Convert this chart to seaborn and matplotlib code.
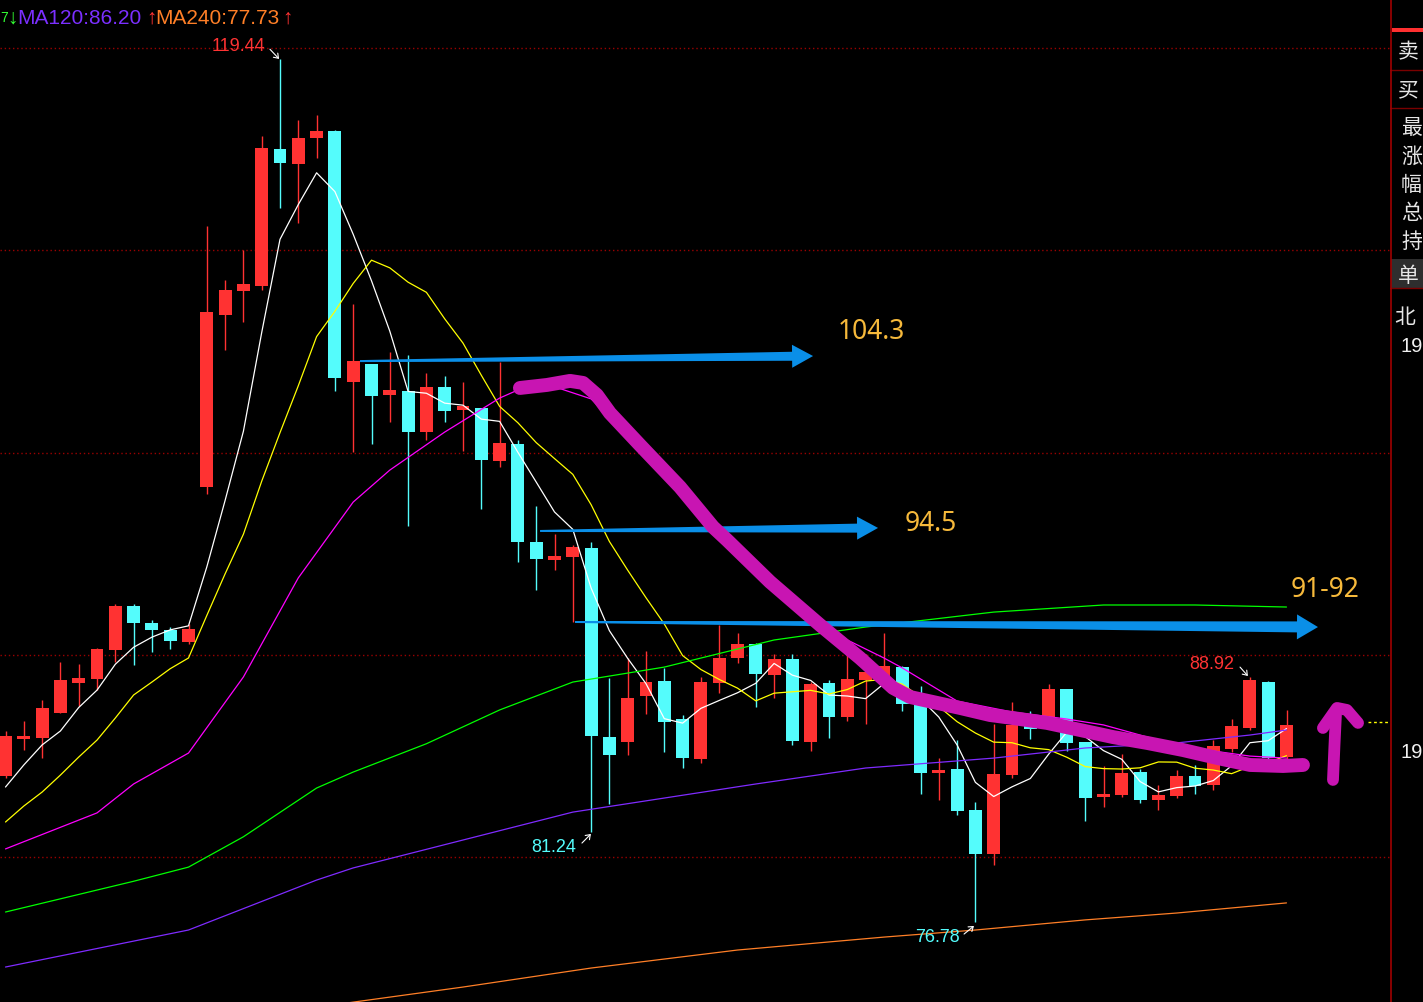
import numpy as np
import pandas as pd
import matplotlib
matplotlib.use("Agg")
import matplotlib.pyplot as plt
import seaborn as sns
from matplotlib.patches import Rectangle, Polygon

# ---------------- data ----------------
opens = [84.00, 85.83, 85.88, 87.12, 88.60, 88.80, 90.23, 92.41, 91.57, 91.22,
         90.63, 98.29, 106.80, 107.99, 108.23, 115.01, 114.26, 115.55, 115.90, 103.49,
         104.38, 102.84, 103.04, 101.01, 103.24, 102.10, 102.20, 99.58, 100.42, 95.58,
         94.68, 94.83, 95.28, 85.93, 85.69, 87.96, 88.70, 86.82, 84.85, 88.60,
         89.84, 90.53, 89.00, 89.79, 85.69, 88.60, 86.92, 88.75, 88.75, 89.39,
         87.56, 84.15, 84.35, 82.32, 80.15, 84.05, 86.53, 86.77, 88.31, 85.69,
         82.97, 83.07, 84.20, 82.82, 83.02, 84.00, 83.56, 85.34, 86.38, 88.65,
         84.94]
highs = [86.23, 86.72, 87.76, 89.64, 89.54, 90.33, 92.51, 92.51, 91.72, 91.37,
         91.52, 111.20, 108.53, 110.01, 115.65, 119.44, 116.44, 116.68, 115.95, 107.34,
         104.40, 104.97, 104.82, 103.93, 103.78, 103.49, 102.22, 104.47, 100.62, 97.35,
         95.97, 95.43, 95.57, 88.85, 89.84, 90.19, 89.34, 87.02, 88.90, 91.47,
         91.08, 90.58, 90.04, 90.04, 88.65, 88.75, 90.14, 90.04, 91.08, 89.44,
         88.45, 84.90, 85.78, 82.72, 86.58, 87.66, 87.22, 88.55, 88.33, 85.71,
         84.50, 85.09, 84.35, 83.56, 84.30, 84.55, 85.78, 86.82, 88.92, 88.70,
         87.27]
lows = [83.90, 85.29, 84.90, 87.10, 87.47, 88.26, 89.64, 89.49, 90.14, 90.28,
        90.53, 97.95, 105.07, 106.45, 108.03, 112.09, 111.35, 114.56, 103.04, 100.02,
        100.42, 101.51, 96.37, 100.62, 101.51, 100.07, 97.21, 99.28, 94.59, 93.20,
        94.19, 91.62, 81.24, 82.62, 85.04, 87.07, 85.19, 84.40, 84.65, 88.11,
        89.59, 87.42, 87.86, 85.54, 85.24, 85.88, 86.72, 86.58, 88.45, 87.22,
        83.12, 82.82, 82.08, 76.78, 79.60, 83.91, 85.83, 86.67, 85.24, 81.78,
        82.47, 82.97, 82.67, 82.32, 82.92, 83.12, 83.31, 85.19, 86.28, 84.80,
        84.80]
closes = [85.98, 85.98, 87.37, 88.75, 88.85, 90.28, 92.41, 91.57, 91.22, 90.68,
          91.27, 106.95, 108.03, 108.33, 115.06, 114.31, 115.55, 115.90, 103.68, 104.52,
          102.79, 103.09, 101.01, 103.24, 102.05, 102.30, 99.63, 100.47, 95.58, 94.73,
          94.88, 95.33, 85.98, 85.04, 87.86, 88.65, 86.67, 84.90, 88.65, 89.84,
          90.53, 89.05, 89.79, 85.74, 88.55, 86.92, 88.80, 89.15, 89.44, 87.56,
          84.15, 84.30, 82.27, 80.15, 84.10, 86.53, 86.33, 88.31, 85.64, 82.92,
          83.12, 84.15, 82.82, 83.07, 84.00, 83.51, 85.49, 86.48, 88.75, 84.90,
          86.53]

ma5 = [83.46, 84.55, 85.54, 86.23, 87.39, 88.25, 89.53, 90.37, 90.87, 91.23,
       91.43, 94.34, 97.63, 101.05, 105.93, 110.54, 112.26, 113.83, 112.90, 110.79,
       108.49, 106.00, 103.02, 102.93, 102.44, 102.34, 101.65, 101.54, 100.01, 98.54,
       97.06, 96.20, 93.30, 91.19, 89.82, 88.57, 86.84, 86.62, 87.35, 87.74,
       88.12, 88.59, 89.57, 88.99, 88.73, 88.01, 87.96, 87.83, 88.57, 88.37,
       87.82, 86.92, 85.54, 83.69, 82.99, 83.47, 83.88, 85.08, 86.18, 85.95,
       85.26, 84.83, 83.73, 83.22, 83.43, 83.51, 83.78, 84.51, 85.65, 85.75,
       86.35]
ma10 = [81.73, 82.52, 83.21, 84.05, 84.94, 85.78, 86.87, 88.01, 88.65, 89.31,
        89.84, 91.94, 94.00, 95.96, 98.58, 100.98, 103.30, 105.73, 106.98, 108.36,
        109.51, 109.13, 108.42, 107.92, 106.61, 105.41, 103.82, 102.28, 101.47, 100.49,
        99.70, 98.92, 97.42, 95.60, 94.18, 92.82, 91.52, 89.96, 89.27, 88.78,
        88.35, 87.72, 88.10, 88.17, 88.24, 88.06, 88.28, 88.70, 88.78, 88.55,
        87.92, 87.44, 86.69, 86.13, 85.68, 85.65, 85.40, 85.31, 84.93, 84.47,
        84.37, 84.35, 84.41, 84.70, 84.69, 84.39, 84.30, 84.12, 84.48, 84.67,
        85.01]
ma20_idx = [0, 5, 7, 10, 13, 16, 19, 21, 24, 27, 28, 30, 32, 35, 37, 39, 42, 46, 48, 49,
            52, 55, 58, 60, 63, 66, 68, 70]
ma20_val = [80.40, 82.18, 83.61, 85.14, 88.90, 93.80, 97.55, 99.13, 101.01, 102.69,
            103.09, 103.25, 102.65, 99.85, 97.95, 95.85, 93.55, 90.73, 89.84, 89.35,
            87.71, 87.17, 86.82, 86.53, 85.78, 85.24, 84.99, 84.89]
ma60_idx = [0, 7, 10, 13, 17, 19, 23, 27, 31, 36, 42, 47, 54, 60, 65, 70]
ma60_val = [77.28, 78.80, 79.50, 81.00, 83.41, 84.20, 85.60, 87.27, 88.65, 89.39,
            90.73, 91.37, 92.11, 92.46, 92.46, 92.36]
ma120_idx = [0, 10, 17, 19, 31, 41, 47, 54, 59, 64, 68, 70]
ma120_val = [74.56, 76.39, 78.86, 79.46, 82.22, 83.61, 84.40, 84.89, 85.39, 85.64,
             86.03, 86.28]
ma240_idx = [18, 25, 32, 40, 48, 53, 59, 64, 70]
ma240_val = [72.70, 73.57, 74.51, 75.40, 76.04, 76.39, 76.89, 77.23, 77.73]

ma_names = ["MA5", "MA10", "MA20", "MA60", "MA120", "MA240"]
ma_colors = ["#FFFFFF", "#FFFF00", "#FF00FF", "#00FF00", "#7F2BFF", "#FF7F27"]

# annotations
extreme_text = ["119.44", "81.24", "76.78", "88.92"]
extreme_pos = [(14.18, 120.05), (31.17, 80.49), (52.16, 76.04), (67.13, 89.54)]
extreme_arrow = [((14.45, 119.94), (14.95, 119.46)),
                 ((31.50, 80.69), (31.99, 81.14)),
                 ((52.38, 76.19), (52.92, 76.59)),
                 ((67.46, 89.39), (67.89, 88.95))]
extreme_color = ["#FF3333", "#54FCFC", "#54FCFC", "#FF3333"]

level_text = ["104.3", "94.5", "91-92"]
level_pos = [(45.49, 105.96), (49.15, 96.46), (70.25, 93.20)]
blue_arrows = [((19.37, 104.52), (44.13, 104.77)),
               ((29.21, 96.12), (47.68, 96.27)),
               ((31.12, 91.62), (71.72, 91.37))]

stroke_idx = [28.11, 29.59, 30.85, 31.56, 32.32, 33.03, 34.67, 36.86, 38.66, 39.43,
              41.78, 44.51, 46.69, 48.50, 49.43, 52.16, 53.80, 55.05, 56.91, 58.72,
              60.52, 62.38, 64.34, 66.20, 68.01, 69.81, 70.90]
stroke_val = [103.19, 103.34, 103.54, 103.44, 102.84, 101.95, 100.37, 98.29, 96.32, 95.67,
              93.60, 91.47, 89.84, 88.36, 87.91, 87.37, 87.02, 86.87, 86.63, 86.28,
              85.93, 85.64, 85.29, 84.90, 84.55, 84.50, 84.55]
uparrow_shaft = ([72.54, 72.62, 72.70], [83.81, 85.50, 87.02])
uparrow_head = ([71.99, 72.76, 73.30, 73.91], [86.38, 87.37, 87.27, 86.63])

panel_labels = ["卖", "买", "最", "涨", "幅", "总", "持", "单", "北"]

# ---------------- figure ----------------
W, H, DPI = 1423, 1002, 100
sns.set_theme(style="dark")
plt.rcParams["font.family"] = ["Liberation Sans", "DejaVu Sans"]

RED = "#FF3232"
CYAN = "#54FCFC"
BLUE = "#0A8FE8"
MAG = "#C815B2"
GOLD = "#F6B93B"

fig = plt.figure(figsize=(W / DPI, H / DPI), dpi=DPI, facecolor="black")
ax = fig.add_axes([0, 0, 1390 / W, 1])
ax.set_facecolor("black")

PXC = 18.3          # pixels per candle
PXU = 20.225        # pixels per price unit
X0 = 5.5
xlim = (-X0 / PXC, (1390 - X0) / PXC)
ylim = (80 - (H - 857) / PXU, 80 + 857 / PXU)

# grid (dotted dark red)
for v in [80, 90, 100, 110, 120]:
    ax.axhline(v, color="#9A0000", ls=(0, (1, 2)), lw=1.0, zorder=1)

# candles
idx = np.arange(len(closes))
o = np.array(opens); c = np.array(closes); h = np.array(highs); l = np.array(lows)
cols = np.where(c >= o, RED, CYAN)
ax.vlines(idx, l, h, colors=cols, lw=1.0, zorder=2)
ax.bar(idx, np.maximum(np.abs(c - o), 0.12), bottom=np.minimum(o, c), width=0.71,
       color=cols, linewidth=0, zorder=3)

# moving averages through seaborn
frames = [
    pd.DataFrame({"idx": idx, "val": ma5, "ma": "MA5"}),
    pd.DataFrame({"idx": idx, "val": ma10, "ma": "MA10"}),
    pd.DataFrame({"idx": ma20_idx, "val": ma20_val, "ma": "MA20"}),
    pd.DataFrame({"idx": ma60_idx, "val": ma60_val, "ma": "MA60"}),
    pd.DataFrame({"idx": ma120_idx, "val": ma120_val, "ma": "MA120"}),
    pd.DataFrame({"idx": ma240_idx, "val": ma240_val, "ma": "MA240"}),
]
df = pd.concat(frames, ignore_index=True)
sns.lineplot(data=df, x="idx", y="val", hue="ma", hue_order=ma_names,
             palette=dict(zip(ma_names, ma_colors)), estimator=None, legend=False,
             linewidth=0.9, ax=ax, zorder=4)

ax.set_xlim(*xlim)
ax.set_ylim(*ylim)
ax.axis("off")

# current price dashed marker
ax.plot([74.45, 75.6], [86.67, 86.67], color="#FFFF00", ls=(0, (2, 2)), lw=1.0, zorder=4)

# extreme labels
for t, (xx, yy), (a0, a1), col in zip(extreme_text, extreme_pos, extreme_arrow, extreme_color):
    ax.text(xx, yy, t, color=col, fontsize=13, ha="right", va="center", zorder=8)
    ax.annotate("", xy=a1, xytext=a0,
                arrowprops=dict(arrowstyle="->,head_length=0.25,head_width=0.18",
                                color="white", lw=0.8, shrinkA=0, shrinkB=0), zorder=8)

# blue tapered arrows (built in pixel space)
fig.canvas.draw()
tr = ax.transData
inv = tr.inverted()
def tapered(start, end, ts=1.0, te=4.5, hl=21.0, hw=11.5):
    S = np.array(tr.transform(start)); E = np.array(tr.transform(end))
    u = (E - S) / np.linalg.norm(E - S)
    n = np.array([-u[1], u[0]])
    B = E - u * hl
    pts = [S + n * ts, B + n * te, B + n * hw, E, B - n * hw, B - n * te, S - n * ts]
    return inv.transform(np.array(pts))
for k, (s, e) in enumerate(blue_arrows):
    extra = 1.0 if k == 2 else 0.0
    ax.add_patch(Polygon(tapered(s, e, te=4.5 + extra, hw=11.5 + extra), closed=True,
                         facecolor=BLUE, edgecolor="none", zorder=6))

# level labels
for t, (xx, yy) in zip(level_text, level_pos):
    ax.text(xx, yy, t, color=GOLD, fontsize=19, ha="left", va="center",
            family=["Noto Sans", "DejaVu Sans"], zorder=8)

# hand drawn magenta strokes
ax.plot(stroke_idx, stroke_val, color=MAG, lw=10, solid_capstyle="round",
        solid_joinstyle="round", zorder=7)
ax.plot(*uparrow_shaft, color=MAG, lw=8.5, solid_capstyle="round", zorder=7)
ax.plot(*uparrow_head, color=MAG, lw=8.5, solid_capstyle="round",
        solid_joinstyle="round", zorder=7)

# title line
ty = 1 - 18 / H
fig.text(0.5 / W, ty, "7", color="#33FF33", fontsize=10, ha="left", va="center")
fig.text(7 / W, ty, "↓", color="#33FF33", fontsize=15, ha="left", va="center")
fig.text(17 / W, ty, "MA120:86.20", color="#7B2FFF", fontsize=15, ha="left", va="center")
fig.text(146 / W, ty, "↑", color="#FF3333", fontsize=15, ha="left", va="center")
fig.text(155 / W, ty, "MA240:77.73", color="#FF7F27", fontsize=15, ha="left", va="center")
fig.text(282 / W, ty, "↑", color="#FF3333", fontsize=15, ha="left", va="center")

# right side panel
rp = fig.add_axes([1390 / W, 0, (W - 1390) / W, 1])
rp.set_xlim(1390, W)
rp.set_ylim(H, 0)
rp.axis("off")
rp.add_patch(Rectangle((1390, 0), W - 1390, H, facecolor="black", edgecolor="none", zorder=0))
rp.axvline(1390.6, color="#A00000", lw=1.2, zorder=3)
rp.add_patch(Rectangle((1392, 28), W - 1392, 4, facecolor="#FF3030", edgecolor="none", zorder=2))
rp.add_patch(Rectangle((1391, 259), W - 1391, 29, facecolor="#2E2E2E", edgecolor="none", zorder=1))
for yy in [70, 108, 288]:
    rp.plot([1390, W], [yy, yy], color="#7A0000", lw=1.0, zorder=2)
panel_x = [1398, 1398, 1401, 1401, 1401, 1401, 1401, 1398, 1394]
panel_y = [52, 90, 128, 157, 185, 213, 242, 276, 317]
for t, xx, yy in zip(panel_labels, panel_x, panel_y):
    rp.text(xx, yy, t, color="#E6E6E6", fontsize=15, ha="left", va="center",
            family=["Noto Sans CJK SC", "DejaVu Sans"], zorder=4)
for yy in [347, 752]:
    rp.text(1401, yy, "19", color="#F0F0F0", fontsize=14.5, ha="left", va="center", zorder=4)

fig.savefig("out.png", dpi=DPI, facecolor="black")
